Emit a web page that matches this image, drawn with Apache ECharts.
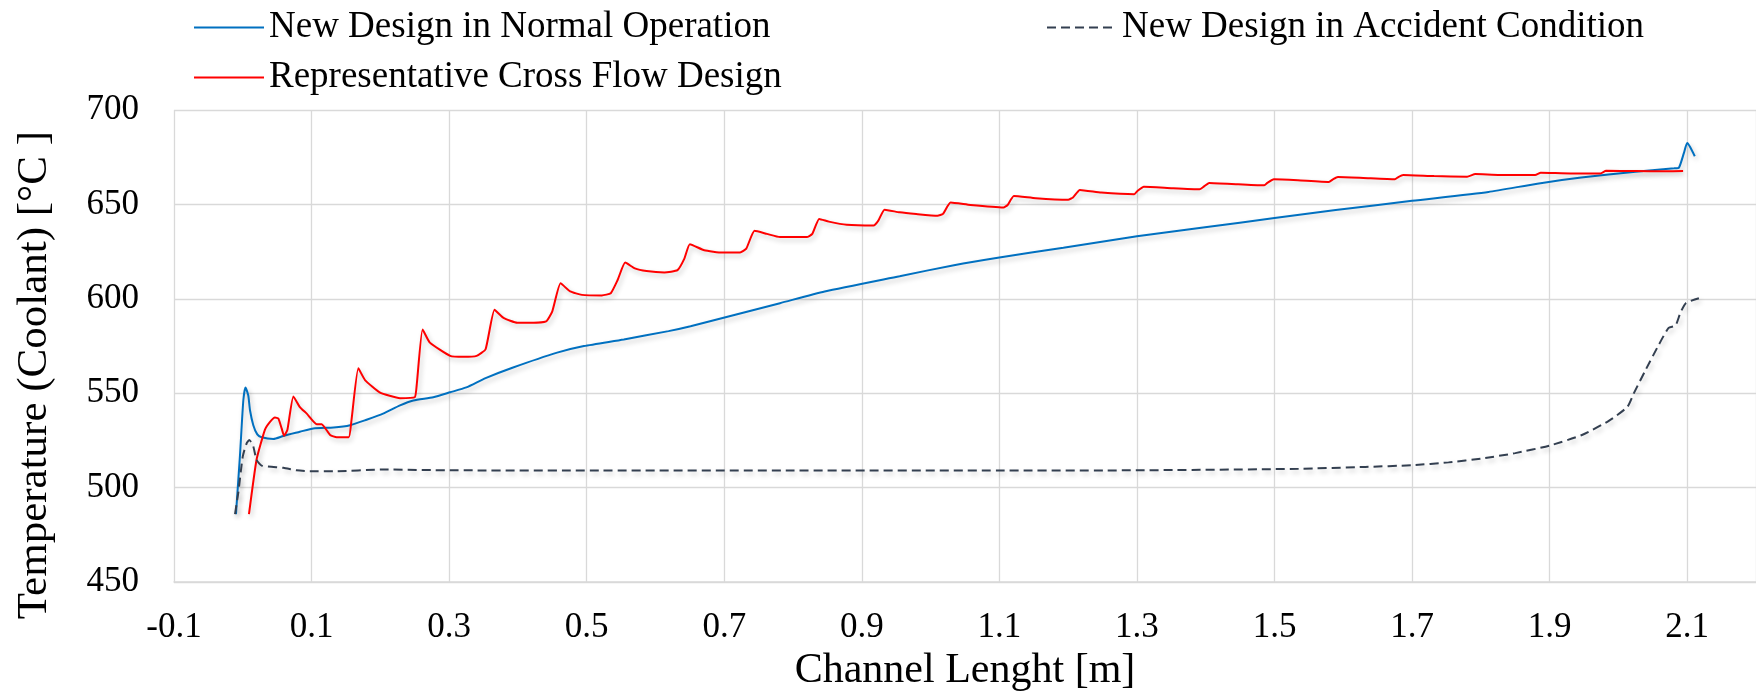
<!DOCTYPE html>
<html>
<head>
<meta charset="utf-8">
<script src="https://cdn.jsdelivr.net/npm/echarts@6/dist/echarts.min.js"></script>
<style>
  html, body { margin: 0; padding: 0; background: #fff; }
  #chart { width: 1756px; height: 697px; }
</style>
</head>
<body>
<div id="chart"></div>
<script>
// coolant temperature along the channel
const FONT = '"Liberation Serif", "Times New Roman", serif';

const NORMAL_NAME = "New Design in Normal Operation";
const CROSS_NAME = "Representative Cross Flow Design";
const ACCIDENT_NAME = "New Design in Accident Condition";

const normalX = [-0.0099, -0.004, 0.0008, 0.004, 0.008, 0.0105, 0.0153, 0.0211, 0.0274, 0.0444, 0.059, 0.083,
  0.1026, 0.132, 0.156, 0.18, 0.204, 0.2286, 0.248, 0.277, 0.3015, 0.325, 0.353, 0.392, 0.457, 0.496, 0.554,
  0.619, 0.651, 0.716, 0.781, 0.846, 0.955, 1.034, 1.1, 1.193, 1.3, 1.399, 1.5, 1.589, 1.7, 1.811, 1.882,
  1.946, 2.025, 2.081, 2.088, 2.095, 2.1, 2.104, 2.111];
const normalY = [486, 517.6, 546.3, 553.1, 548.8, 541, 533.1, 528.2, 526.7, 525.8, 527.4, 529.6,
  531.4, 531.9, 533.1, 536, 539.2, 543.6, 546.2, 547.9, 550.5, 553.1, 558, 563.5, 571.5, 575, 578.5,
  582.9, 585.5, 591.6, 597.7, 603.9, 612, 617.8, 621.9, 627.1, 633.1, 637.9, 642.8, 647, 651.9, 656.6, 661,
  664.2, 667.3, 669.1, 669.5, 677, 682.5, 680.5, 675.5];

const crossX = [0.009, 0.02, 0.032, 0.0396, 0.0468, 0.0517, 0.0565, 0.06, 0.0648, 0.0735, 0.083, 0.093,
  0.1075, 0.1147, 0.127, 0.1365, 0.154, 0.158, 0.168, 0.1777, 0.199, 0.2286, 0.25, 0.253, 0.2614, 0.272,
  0.3015, 0.321, 0.34, 0.353, 0.366, 0.379, 0.399, 0.418, 0.441, 0.45, 0.462, 0.476, 0.493, 0.522, 0.535,
  0.545, 0.556, 0.57, 0.587, 0.613, 0.632, 0.642, 0.65, 0.671, 0.697, 0.723, 0.732, 0.744, 0.762, 0.781,
  0.82, 0.828, 0.838, 0.852, 0.878, 0.917, 0.924, 0.933, 0.955, 0.979, 1.01, 1.018, 1.029, 1.058, 1.106,
  1.112, 1.121, 1.153, 1.2, 1.207, 1.217, 1.248, 1.296, 1.301, 1.31, 1.351, 1.391, 1.397, 1.405, 1.447,
  1.485, 1.49, 1.499, 1.534, 1.579, 1.585, 1.592, 1.629, 1.675, 1.68, 1.687, 1.732, 1.78, 1.792, 1.827,
  1.879, 1.887, 1.93, 1.974, 1.982, 2.025, 2.065, 2.094];
const crossY = [486, 514.8, 530.5, 534.8, 537.1, 536.6, 531.4, 527.5, 530.5, 548.3, 542.7, 539.2,
  533.6, 533.6, 527.9, 526.7, 526.7, 535.7, 563.2, 557, 550.5, 547.4, 547.9, 554.9, 583.8, 576.8,
  569.8, 569.3, 569.8, 573.3, 594.2, 589.9, 587.3, 587.3, 588.1, 593.4, 608.2, 603.9, 602.1, 601.8, 603,
  610, 619.2, 616.1, 614.7, 614, 615.2, 621.3, 628.9, 625.7, 624.5, 624.5, 626.6, 636, 634.4, 632.7,
  632.7, 634.4, 642.3, 640.9, 639.2, 638.8, 641.4, 647.2, 645.8, 644.9, 644, 645, 651, 649.7, 648.4,
  649.7, 654.5, 653.3, 652.5, 653.7, 657.7, 656.3, 655.4, 657.2, 659.4, 658.6, 658, 659.4, 661.4, 660.7,
  660.1, 661.5, 663.3, 662.8, 661.9, 663.3, 664.5, 664, 663.3, 664.5, 665.6, 665, 664.7, 666.1, 665.6,
  665.6, 666.8, 666.4, 666.4, 667.8, 667.7, 667.5, 667.7];

const accidentX = [-0.0113, -0.0065, 0, 0.0056, 0.0095, 0.0153, 0.02, 0.0274, 0.059, 0.078, 0.0977, 0.1316,
  0.204, 0.301, 0.519, 0.8, 1.1, 1.3, 1.535, 1.632, 1.7, 1.753, 1.802, 1.85, 1.9, 1.947, 1.986, 2.013,
  2.022, 2.039, 2.059, 2.073, 2.083, 2.09, 2.098, 2.117];
const accidentY = [486, 497.4, 516.6, 523.5, 525.3, 521.8, 514.8, 511.7, 510.5, 509.2, 508.7, 508.7,
  509.6, 509.2, 509.1, 509.1, 509.1, 509.2, 510, 511, 511.9, 513.4, 515.5, 518.3, 522.3, 527.9, 535.4, 542.8,
  549.7, 562, 575.9, 584.6, 585.9, 592.5, 597.7, 600.3];

const zip = (xs, ys) => xs.map((x, i) => [x, ys[i]]);

const shadow = {
  shadowColor: "rgba(0,0,0,0.22)",
  shadowBlur: 5,
  shadowOffsetX: 2,
  shadowOffsetY: 3,
};
const legendText = { fontFamily: FONT, fontSize: 37, lineHeight: 36, color: "#000" };
const legendLine = { shadowBlur: 0, shadowColor: "transparent", shadowOffsetX: 0, shadowOffsetY: 0 };
// line samples only, no marker dot in the legend
const legendDot = { opacity: 0, borderWidth: 0 };
const gridLine = { lineStyle: { color: "#D9D9D9", width: 1.3 } };

const chart = echarts.init(document.getElementById("chart"), null, { renderer: "canvas" });
chart.setOption({
  backgroundColor: "#fff",
  animation: false,
  legend: [
    {
      data: [NORMAL_NAME, CROSS_NAME],
      orient: "vertical",
      left: 188,
      top: 4,
      itemWidth: 70,
      itemHeight: 14,
      itemGap: 13,
      textStyle: legendText,
      lineStyle: legendLine,
      itemStyle: legendDot,
    },
    {
      data: [ACCIDENT_NAME],
      left: 1041,
      top: 4,
      itemWidth: 70,
      itemHeight: 14,
      textStyle: legendText,
      lineStyle: legendLine,
      itemStyle: legendDot,
    },
  ],
  grid: { left: 174, right: 0, top: 110, bottom: 110, containLabel: false },
  xAxis: {
    type: "value",
    min: -0.1,
    max: 2.2,
    interval: 0.2,
    name: "Channel Lenght [m]",
    nameLocation: "middle",
    nameGap: 66,
    nameTextStyle: { fontFamily: FONT, fontSize: 42, color: "#000" },
    axisLine: { show: true, lineStyle: { color: "#D9D9D9", width: 1.5 } },
    axisTick: { show: false },
    axisLabel: { fontFamily: FONT, fontSize: 35, color: "#000", margin: 28, showMaxLabel: false },
    splitLine: gridLine,
  },
  yAxis: {
    type: "value",
    min: 450,
    max: 700,
    interval: 50,
    name: "Temperature (Coolant) [°C ]",
    nameLocation: "middle",
    nameGap: 118,
    // right padding pushes the rotated title down, as in the original
    nameTextStyle: { fontFamily: FONT, fontSize: 43, color: "#000", padding: [0, 58, 0, 0] },
    axisLine: { show: false },
    axisTick: { show: false },
    axisLabel: { fontFamily: FONT, fontSize: 35, color: "#000", margin: 35 },
    splitLine: gridLine,
  },
  series: [
    {
      name: NORMAL_NAME,
      type: "line",
      data: zip(normalX, normalY),
      symbol: "none",
      smooth: 0.2,
      color: "#0070C0",
      lineStyle: { color: "#0070C0", width: 2, ...shadow },
    },
    {
      name: CROSS_NAME,
      type: "line",
      data: zip(crossX, crossY),
      symbol: "none",
      smooth: 0.15,
      color: "#FF0000",
      lineStyle: { color: "#FF0000", width: 2, ...shadow },
    },
    {
      name: ACCIDENT_NAME,
      type: "line",
      data: zip(accidentX, accidentY),
      symbol: "none",
      smooth: 0.2,
      color: "#333F50",
      lineStyle: { color: "#333F50", width: 2, type: [9, 5], ...shadow },
    },
  ],
});
</script>
</body>
</html>
